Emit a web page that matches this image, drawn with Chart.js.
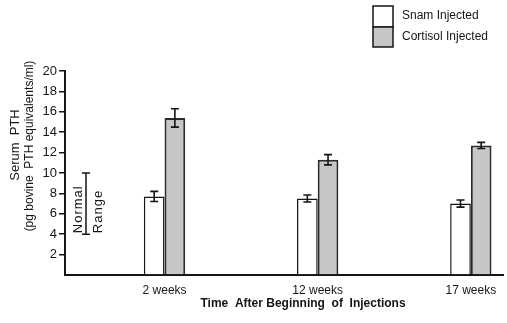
<!DOCTYPE html>
<html>
<head>
<meta charset="utf-8">
<script src="https://cdn.jsdelivr.net/npm/chart.js@4/dist/chart.umd.min.js"></script>
<style>
  html, body { margin: 0; padding: 0; background: #fff; }
  #c { display: block; }
</style>
</head>
<body>
<canvas id="c" width="507" height="323"></canvas>
<script>
// ---- data ----
const categories = ['2 weeks', '12 weeks', '17 weeks'];
const shamValues = [7.7, 7.5, 7.0];
const shamErrors = [0.5, 0.35, 0.35];
const cortisolValues = [15.4, 11.3, 12.7];
const cortisolErrors = [0.9, 0.5, 0.3];
const yTicks = [2, 4, 6, 8, 10, 12, 14, 16, 18, 20];
const normalRange = [4, 10];
const seriesNames = ['Snam Injected', 'Cortisol Injected'];
const xTitle = 'Time  After Beginning  of  Injections';
const yTitle = ['Serum  PTH', '(pg bovine  PTH equivalents/ml)'];

const FONT = "'Liberation Sans', Arial, sans-serif";
const INK = '#151515';
const GREY = '#c6c6c6';

Chart.defaults.font.family = FONT;
Chart.defaults.color = INK;

const extras = {
  id: 'extras',
  afterDatasetsDraw(chart) {
    const ctx = chart.ctx;
    const y = chart.scales.y;
    // error bars
    chart.data.datasets.forEach((ds, d) => {
      const meta = chart.getDatasetMeta(d);
      meta.data.forEach((bar, i) => {
        const v = ds.data[i].y, e = ds.errors[i];
        const yt = y.getPixelForValue(v + e), yb = y.getPixelForValue(v - e);
        ctx.save();
        ctx.strokeStyle = INK;
        ctx.lineWidth = 1.6;
        ctx.beginPath();
        ctx.moveTo(bar.x, yt); ctx.lineTo(bar.x, yb);
        ctx.moveTo(bar.x - 4, yt); ctx.lineTo(bar.x + 4, yt);
        ctx.moveTo(bar.x - 4, yb); ctx.lineTo(bar.x + 4, yb);
        ctx.stroke();
        ctx.restore();
      });
    });
  },
  afterDraw(chart) {
    const ctx = chart.ctx;
    const y = chart.scales.y;
    const area = chart.chartArea;
    ctx.save();
    // normal range bracket
    const bx = area.left + 21;
    const y1 = y.getPixelForValue(normalRange[0]), y2 = y.getPixelForValue(normalRange[1]);
    ctx.strokeStyle = INK;
    ctx.lineWidth = 1.5;
    ctx.beginPath();
    ctx.moveTo(bx, y1); ctx.lineTo(bx, y2);
    ctx.moveTo(bx - 4, y1); ctx.lineTo(bx + 4, y1);
    ctx.moveTo(bx - 4, y2); ctx.lineTo(bx + 4, y2);
    ctx.stroke();
    ctx.fillStyle = INK;
    ctx.font = "13px " + FONT;
    ctx.textBaseline = 'middle';
    ctx.textAlign = 'left';
    ctx.save();
    ctx.translate(bx - 8, y1 - 1);
    ctx.rotate(-Math.PI / 2);
    ctx.letterSpacing = '1px';
    ctx.fillText('Normal', 0, 0);
    ctx.restore();
    ctx.save();
    ctx.translate(bx + 12, y1 - 1);
    ctx.rotate(-Math.PI / 2);
    ctx.letterSpacing = '1px';
    ctx.fillText('Range', 0, 0);
    ctx.restore();

    // y title
    ctx.textAlign = 'center';
    ctx.save();
    ctx.translate(15, 145);
    ctx.rotate(-Math.PI / 2);
    ctx.font = "13px " + FONT;
    ctx.fillText(yTitle[0], 0, 0);
    ctx.restore();
    ctx.save();
    ctx.translate(30, 146);
    ctx.rotate(-Math.PI / 2);
    ctx.font = "12px " + FONT;
    ctx.fillText(yTitle[1], 0, 0);
    ctx.restore();

    // x title
    ctx.font = "bold 12px " + FONT;
    ctx.fillText(xTitle, 303, 304);

    // legend
    const lx = 373, ly = 6;
    ctx.lineWidth = 1.5;
    ctx.fillStyle = '#fff';
    ctx.fillRect(lx, ly, 20, 21);
    ctx.strokeStyle = INK;
    ctx.strokeRect(lx, ly, 20, 21);
    ctx.fillStyle = GREY;
    ctx.fillRect(lx, ly + 21, 20, 20);
    ctx.strokeRect(lx, ly + 21, 20, 20);
    ctx.fillStyle = INK;
    ctx.font = "12px " + FONT;
    ctx.textAlign = 'left';
    ctx.fillText(seriesNames[0], lx + 29, ly + 10);
    ctx.fillText(seriesNames[1], lx + 29, ly + 31);
    ctx.restore();
  }
};

new Chart(document.getElementById('c'), {
  type: 'bar',
  data: {
    datasets: [
      {
        label: seriesNames[0],
        data: categories.map((c, i) => ({ x: i, y: shamValues[i] })),
        errors: shamErrors,
        backgroundColor: '#ffffff',
        borderColor: INK,
        borderWidth: 1.5,
        categoryPercentage: 0.27,
        barPercentage: 1.0
      },
      {
        label: seriesNames[1],
        data: categories.map((c, i) => ({ x: i, y: cortisolValues[i] })),
        errors: cortisolErrors,
        backgroundColor: GREY,
        borderColor: '#2a2a2a',
        borderWidth: 2,
        categoryPercentage: 0.27,
        barPercentage: 1.0
      }
    ]
  },
  options: {
    responsive: false,
    devicePixelRatio: 1,
    animation: false,
    layout: { padding: { top: 71, right: 4, left: 0, bottom: 0 } },
    plugins: { legend: { display: false }, tooltip: { enabled: false } },
    scales: {
      x: {
        type: 'linear',
        min: -0.65,
        max: 2.21,
        offset: false,
        grid: { display: false, drawTicks: false },
        border: { display: true, color: INK, width: 2 },
        afterBuildTicks: (s) => { s.ticks = categories.map((c, i) => ({ value: i })); },
        afterFit: (s) => { s.height = 48; },
        ticks: {
          autoSkip: false,
          maxRotation: 0,
          padding: 8,
          font: { size: 12 },
          color: INK,
          callback: (v) => categories[v] ?? ''
        }
      },
      y: {
        min: 0,
        max: 20,
        afterBuildTicks: (s) => { s.ticks = [0].concat(yTicks).map(v => ({ value: v })); },
        afterFit: (s) => { s.width = 65; },
        grid: {
          drawOnChartArea: false,
          drawTicks: true,
          tickLength: 6,
          lineWidth: 1.5,
          color: (c) => (c.tick && c.tick.value === 0) ? 'rgba(0,0,0,0)' : INK
        },
        border: { display: true, color: INK, width: 2 },
        ticks: {
          padding: 2,
          font: { size: 13 },
          color: INK,
          callback: (v) => v === 0 ? '' : v
        }
      }
    }
  },
  plugins: [extras]
});
</script>
</body>
</html>
